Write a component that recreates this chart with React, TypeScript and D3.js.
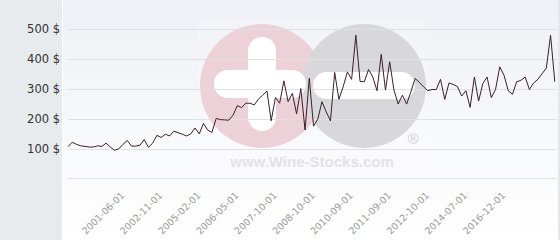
import React from "react";
import * as d3 from "d3";

const values: number[] = [
  106, 121, 114, 109, 107, 105, 105, 109, 107, 118, 105, 94, 99, 114, 127, 108, 108, 111, 130, 104,
  118, 144, 137, 148, 142, 158, 153, 148, 142, 149, 169, 149, 184, 162, 154, 201, 197, 196, 195, 212,
  244, 237, 252, 252, 246, 266, 279, 293, 193, 271, 252, 327, 257, 285, 216, 301, 162, 336, 175, 198,
  257, 223, 193, 355, 265, 307, 357, 332, 480, 325, 324, 365, 340, 294, 416, 296, 391, 296, 249, 279,
  249, 290, 335, 322, 307, 294, 298, 298, 332, 265, 320, 315, 308, 276, 294, 238, 340, 259, 318, 340,
  271, 298, 374, 346, 294, 282, 324, 329, 340, 298, 320, 332, 351, 370, 480, 324,
];

const tickLabels: string[] = [
  "2001-06-01", "2002-11-01", "2005-02-01", "2006-05-01", "2007-10-01", "2008-10-01",
  "2010-09-01", "2011-09-01", "2012-10-01", "2014-07-01", "2016-12-01",
];
const tickIndices: number[] = [13, 22, 31, 40, 49, 58, 67, 76, 85, 94, 103];

const yTicks: number[] = [0, 100, 200, 300, 400, 500];

export default function App() {
  const W = 560;
  const H = 240;
  const x = d3.scaleLinear().domain([0, values.length - 1]).range([68, 554.8]);
  const y = d3.scaleLinear().domain([0, 500]).range([178.3, 29.3]);
  const line = d3
    .line<number>()
    .x((_, i) => x(i))
    .y((d) => y(d));

  return (
    <svg
      width={W}
      height={H}
      style={{ position: "absolute", left: 0, top: 0, display: "block" }}
      fontFamily="DejaVu Sans, sans-serif"
    >
      <defs>
        <linearGradient id="bg" x1="0" y1="0" x2="0" y2="1">
          <stop offset="0%" stopColor="#eff0f5" />
          <stop offset="100%" stopColor="#ffffff" />
        </linearGradient>
      </defs>
      <rect x={0} y={0} width={W} height={H} fill="url(#bg)" />
      <rect x={0} y={0} width={62} height={H} fill="#e7ebee" />
      <rect x={62} y={0} width={1} height={H} fill="#ffffff" />
      <rect x={558} y={0} width={2} height={H} fill="#e3e6ea" />

      {/* watermark */}
      <g>
        <rect x={197} y={20} width={232} height={158} fill="#ffffff" opacity={0.15} />
        <circle cx={262} cy={86} r={62} fill="#ecd2d8" />
        <circle cx={364} cy={86} r={62} fill="#d8d8da" />
        <rect x={248} y={37} width={28} height={94} rx={14} fill="#ffffff" />
        <rect x={214} y={70} width={92} height={28} rx={14} fill="#ffffff" />
        <rect x={313} y={72} width={102} height={27} rx={13.5} fill="#ffffff" />
        <text x={413} y={144} fontSize={15} fill="#cfcfd2" textAnchor="middle" fontFamily="Liberation Sans, Arial, sans-serif">
          ®
        </text>
        <text
          x={312}
          y={167}
          fontSize={15}
          fontWeight="bold"
          fill="#e2e2e4"
          textAnchor="middle"
          fontFamily="Liberation Sans, Arial, sans-serif"
        >
          www.Wine-Stocks.com
        </text>
      </g>

      {yTicks.map((t) => (
        <line key={"g" + t} x1={68} x2={557} y1={Math.round(y(t)) + 0.5} y2={Math.round(y(t)) + 0.5} stroke="#dfe0e3" strokeWidth={1} />
      ))}
      {yTicks
        .filter((t) => t > 0)
        .map((t) => (
          <text key={"yl" + t} x={60} y={y(t) + 4} fontSize={11.5} fill="#333333" textAnchor="end">
            {t} $
          </text>
        ))}

      <path d={line(values) || ""} fill="none" stroke="#3a1f2c" strokeWidth={1} strokeLinejoin="miter" />

      {tickLabels.map((lab, k) => {
        const tx = x(tickIndices[k]) + 2;
        const ty = 196;
        return (
          <text
            key={lab}
            x={tx}
            y={ty}
            fontSize={9.5}
            fill="#9a9a9a"
            textAnchor="end"
            transform={`rotate(-45 ${tx} ${ty})`}
          >
            {lab}
          </text>
        );
      })}
    </svg>
  );
}
